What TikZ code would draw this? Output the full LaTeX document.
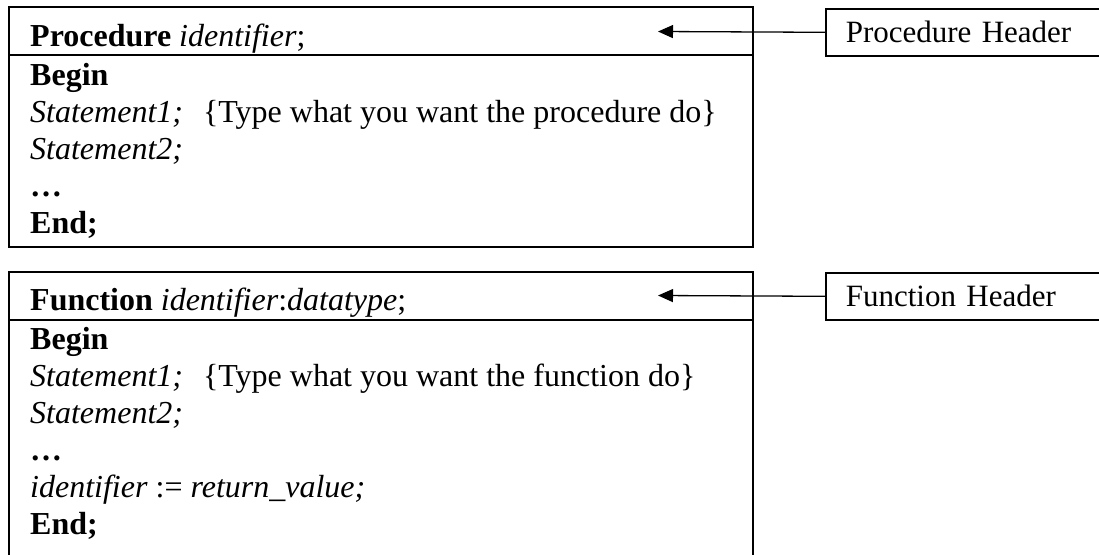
\documentclass[tikz,border=0pt]{standalone}
\usepackage{fontspec}
\setmainfont{Liberation Serif}
\usetikzlibrary{arrows.meta,positioning}

\tikzset{
  codeline/.style={anchor=base west, inner sep=0pt, font=\fontsize{32}{37}\selectfont},
  labelbox/.style={draw, line width=1.6pt, anchor=north west, minimum height=47pt,
                   text width=300pt, inner xsep=20pt, inner ysep=0pt, align=left,
                   font=\fontsize{31}{37}\selectfont},
  frame/.style={line width=1.8pt},
  pointer/.style={line width=1.3pt, -{Triangle[length=15pt,width=13pt]}}
}

\begin{document}
\begin{tikzpicture}[x=1pt,y=-1pt]

\clip (0,0) rectangle (1099,554);

% procedure block
\draw[frame] (9,7) rectangle (753,247);
\draw[frame] (9,55) -- (753,55);

\node[codeline] (prochdr)   at (30,46)  {\textbf{Procedure} \textit{identifier};};
\node[codeline] (procbegin) at (30,85)  {\textbf{Begin}};
\node[codeline] (procstmt1) at (30,122) {\textit{Statement1;}\hspace{20pt}\{Type what you want the procedure do\}};
\node[codeline] (procstmt2) at (30,159) {\textit{Statement2;}};
\node[codeline] (procdots)  at (30,196) {\textbf{…}};
\node[codeline] (procend)   at (30,233) {\textbf{End;}};

% function block
\draw[frame] (9,272) rectangle (753,580);
\draw[frame] (9,320) -- (753,320);

\node[codeline] (funchdr)   at (30,310) {\textbf{Function} \textit{identifier}:\textit{datatype};};
\node[codeline] (funcbegin) at (30,349) {\textbf{Begin}};
\node[codeline] (funcstmt1) at (30,386) {\textit{Statement1;}\hspace{20pt}\{Type what you want the function do\}};
\node[codeline] (funcstmt2) at (30,423) {\textit{Statement2;}};
\node[codeline] (funcdots)  at (30,460) {\textbf{…}};
\node[codeline] (funcret)   at (30,497) {\textit{identifier} := \textit{return\_value;}};
\node[codeline] (funcend)   at (30,534) {\textbf{End;}};

% header labels
\node[labelbox] (prochead) at (825,8)   {Procedure Header};
\node[labelbox] (funchead) at (825,272) {Function Header};

\coordinate (proctip) at (658,31.5);
\coordinate (functip) at (658,295.5);

\draw[pointer] (prochead.west) -- (proctip);
\draw[pointer] (funchead.west) -- (functip);

\end{tikzpicture}
\end{document}
